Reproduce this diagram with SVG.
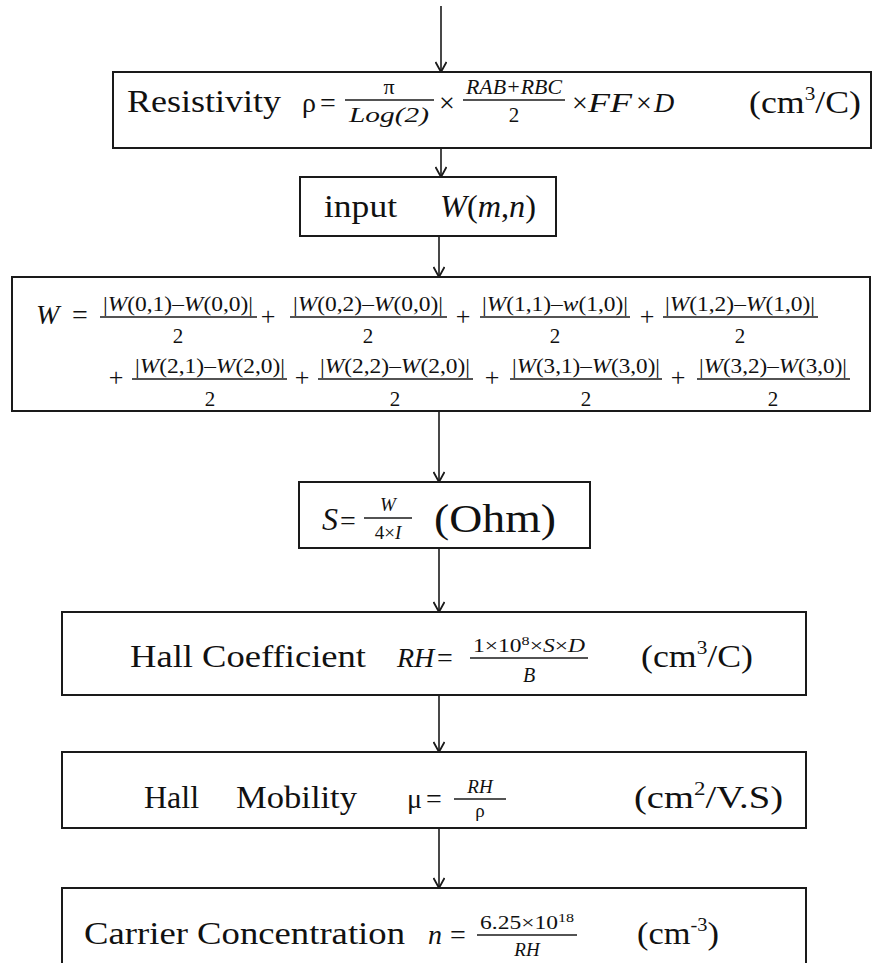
<svg xmlns="http://www.w3.org/2000/svg" width="874" height="963" viewBox="0 0 874 963">
<style>
text{font-family:"Liberation Serif","Times New Roman",serif;fill:#111}
.L{font-size:32px}
.M{font-size:28px}
.P{font-size:26px}
.n{font-size:21px}
.s{font-size:19px}
.i{font-style:italic}
.c{text-anchor:middle}
.box{fill:none;stroke:#1a1a1a;stroke-width:2}
.bar{stroke:#1a1a1a;stroke-width:1.3}
.con{stroke:#1a1a1a;stroke-width:1.6;fill:none}
</style>
<defs>
<marker id="ah" viewBox="0 0 12 12" refX="11" refY="6" markerWidth="12" markerHeight="12" markerUnits="userSpaceOnUse" orient="auto">
<path d="M1,0.5 L11,6 L1,11.5" fill="none" stroke="#1a1a1a" stroke-width="1.8"/>
</marker>
</defs>
<g id="connectors">
<line class="con" x1="441" y1="6" x2="441" y2="72" marker-end="url(#ah)"/>
<line class="con" x1="441" y1="148" x2="441" y2="177" marker-end="url(#ah)"/>
<line class="con" x1="439" y1="236" x2="439" y2="277" marker-end="url(#ah)"/>
<line class="con" x1="439" y1="411" x2="439" y2="482" marker-end="url(#ah)"/>
<line class="con" x1="439" y1="548" x2="439" y2="612" marker-end="url(#ah)"/>
<line class="con" x1="439" y1="695" x2="439" y2="752" marker-end="url(#ah)"/>
<line class="con" x1="439" y1="828" x2="439" y2="888" marker-end="url(#ah)"/>
</g>
<g id="resistivity">
<rect class="box" x="113" y="72" width="758" height="76"/>
<text class="L" x="127" y="112" textLength="154" lengthAdjust="spacingAndGlyphs">Resistivity</text>
<text class="M" x="302" y="112">ρ</text>
<text class="M" x="320" y="112">=</text>
<line class="bar" x1="345" y1="100" x2="434" y2="100"/>
<text class="c" x="389" y="94" font-size="22">π</text>
<text class="c i" x="389" y="122" font-size="22" textLength="80" lengthAdjust="spacingAndGlyphs">Log(2)</text>
<text class="M" x="439" y="112">×</text>
<line class="bar" x1="463" y1="100" x2="565" y2="100"/>
<text class="c i" x="514" y="94" font-size="21" textLength="96" lengthAdjust="spacingAndGlyphs">RAB+RBC</text>
<text class="c" x="514" y="122" font-size="21">2</text>
<text class="M" x="572" y="112">×</text>
<text class="M i" x="588" y="112" textLength="44" lengthAdjust="spacingAndGlyphs">FF</text>
<text class="M" x="636" y="112">×</text>
<text class="M i" x="654" y="112">D</text>
<text class="L" x="749" y="113" textLength="112" lengthAdjust="spacingAndGlyphs">(cm<tspan font-size="19" dy="-13">3</tspan><tspan dy="13">/C)</tspan></text>
</g>
<g id="input">
<rect class="box" x="300" y="177" width="256" height="59"/>
<text class="L" x="324" y="217" textLength="73" lengthAdjust="spacingAndGlyphs">input</text>
<text class="L i" x="440" y="217" textLength="96" lengthAdjust="spacingAndGlyphs">W<tspan font-style="normal">(</tspan>m<tspan font-style="normal">,</tspan>n<tspan font-style="normal">)</tspan></text>
</g>
<g id="w-sum">
<rect class="box" x="12" y="277" width="858" height="134"/>
<text class="M i" x="36" y="324">W</text>
<text class="M" x="72" y="324">=</text>
<line class="bar" x1="100" y1="317" x2="257" y2="317"/>
<text class="n c" x="178" y="311" textLength="150" lengthAdjust="spacingAndGlyphs">|<tspan font-style="italic">W</tspan>(0,1)–<tspan font-style="italic">W</tspan>(0,0)|</text>
<text class="n c" x="178" y="343">2</text>
<text class="P c" x="268" y="325">+</text>
<line class="bar" x1="290" y1="317" x2="447" y2="317"/>
<text class="n c" x="368" y="311" textLength="150" lengthAdjust="spacingAndGlyphs">|<tspan font-style="italic">W</tspan>(0,2)–<tspan font-style="italic">W</tspan>(0,0)|</text>
<text class="n c" x="368" y="343">2</text>
<text class="P c" x="463" y="325">+</text>
<line class="bar" x1="480" y1="317" x2="630" y2="317"/>
<text class="n c" x="555" y="311" textLength="146" lengthAdjust="spacingAndGlyphs">|<tspan font-style="italic">W</tspan>(1,1)–<tspan font-style="italic">w</tspan>(1,0)|</text>
<text class="n c" x="555" y="343">2</text>
<text class="P c" x="647" y="325">+</text>
<line class="bar" x1="663" y1="317" x2="818" y2="317"/>
<text class="n c" x="740" y="311" textLength="150" lengthAdjust="spacingAndGlyphs">|<tspan font-style="italic">W</tspan>(1,2)–<tspan font-style="italic">W</tspan>(1,0)|</text>
<text class="n c" x="740" y="343">2</text>
<text class="P c" x="116" y="386">+</text>
<line class="bar" x1="132" y1="379" x2="287" y2="379"/>
<text class="n c" x="210" y="373" textLength="150" lengthAdjust="spacingAndGlyphs">|<tspan font-style="italic">W</tspan>(2,1)–<tspan font-style="italic">W</tspan>(2,0)|</text>
<text class="n c" x="210" y="406">2</text>
<text class="P c" x="302" y="386">+</text>
<line class="bar" x1="318" y1="379" x2="473" y2="379"/>
<text class="n c" x="395" y="373" textLength="150" lengthAdjust="spacingAndGlyphs">|<tspan font-style="italic">W</tspan>(2,2)–<tspan font-style="italic">W</tspan>(2,0)|</text>
<text class="n c" x="395" y="406">2</text>
<text class="P c" x="492" y="386">+</text>
<line class="bar" x1="510" y1="379" x2="662" y2="379"/>
<text class="n c" x="586" y="373" textLength="148" lengthAdjust="spacingAndGlyphs">|<tspan font-style="italic">W</tspan>(3,1)–<tspan font-style="italic">W</tspan>(3,0)|</text>
<text class="n c" x="586" y="406">2</text>
<text class="P c" x="678" y="386">+</text>
<line class="bar" x1="697" y1="379" x2="850" y2="379"/>
<text class="n c" x="773" y="373" textLength="148" lengthAdjust="spacingAndGlyphs">|<tspan font-style="italic">W</tspan>(3,2)–<tspan font-style="italic">W</tspan>(3,0)|</text>
<text class="n c" x="773" y="406">2</text>
</g>
<g id="s-ohm">
<rect class="box" x="299" y="482" width="291" height="66"/>
<text class="L i" x="322" y="530">S</text>
<text class="M" x="340" y="530">=</text>
<line class="bar" x1="364" y1="518" x2="412" y2="518"/>
<text class="s c i" x="388" y="511">W</text>
<text class="s c" x="388" y="539">4×<tspan font-style="italic">I</tspan></text>
<text x="434" y="532" font-size="39" textLength="122" lengthAdjust="spacingAndGlyphs">(Ohm)</text>
</g>
<g id="hall-coefficient">
<rect class="box" x="62" y="612" width="744" height="83"/>
<text class="L" x="130" y="667" textLength="236" lengthAdjust="spacingAndGlyphs">Hall Coefficient</text>
<text class="M i" x="397" y="667">RH</text>
<text class="M" x="437" y="667">=</text>
<line class="bar" x1="470" y1="658" x2="588" y2="658"/>
<text class="s c" x="529" y="652" textLength="112" lengthAdjust="spacingAndGlyphs">1×10<tspan font-size="13" dy="-7">8</tspan><tspan dy="7">×</tspan><tspan font-style="italic">S</tspan>×<tspan font-style="italic">D</tspan></text>
<text class="c i" x="529" y="682" font-size="20">B</text>
<text class="L" x="641" y="667" textLength="112" lengthAdjust="spacingAndGlyphs">(cm<tspan font-size="19" dy="-13">3</tspan><tspan dy="13">/C)</tspan></text>
</g>
<g id="hall-mobility">
<rect class="box" x="62" y="752" width="744" height="76"/>
<text class="L" x="144" y="808">Hall<tspan x="236" textLength="121" lengthAdjust="spacingAndGlyphs">Mobility</tspan></text>
<text class="M" x="407" y="808">μ</text>
<text class="M" x="426" y="808">=</text>
<line class="bar" x1="454" y1="799" x2="506" y2="799"/>
<text class="s c i" x="480" y="793">RH</text>
<text class="s c" x="480" y="817">ρ</text>
<text class="L" x="634" y="808" textLength="149" lengthAdjust="spacingAndGlyphs">(cm<tspan font-size="19" dy="-13">2</tspan><tspan dy="13">/V.S)</tspan></text>
</g>
<g id="carrier-concentration">
<path class="box" d="M62,963 V888 H806 V963"/>
<text class="L" x="84" y="944" textLength="321" lengthAdjust="spacingAndGlyphs">Carrier Concentration</text>
<text class="M i" x="428" y="944">n</text>
<text class="M" x="450" y="944">=</text>
<line class="bar" x1="477" y1="935" x2="577" y2="935"/>
<text class="s c" x="527" y="929" textLength="94" lengthAdjust="spacingAndGlyphs">6.25×10<tspan font-size="13" dy="-7">18</tspan></text>
<text class="s c i" x="527" y="956">RH</text>
<text class="L" x="637" y="944" textLength="82" lengthAdjust="spacingAndGlyphs">(cm<tspan font-size="19" dy="-13">-3</tspan><tspan dy="13">)</tspan></text>
</g>
</svg>
